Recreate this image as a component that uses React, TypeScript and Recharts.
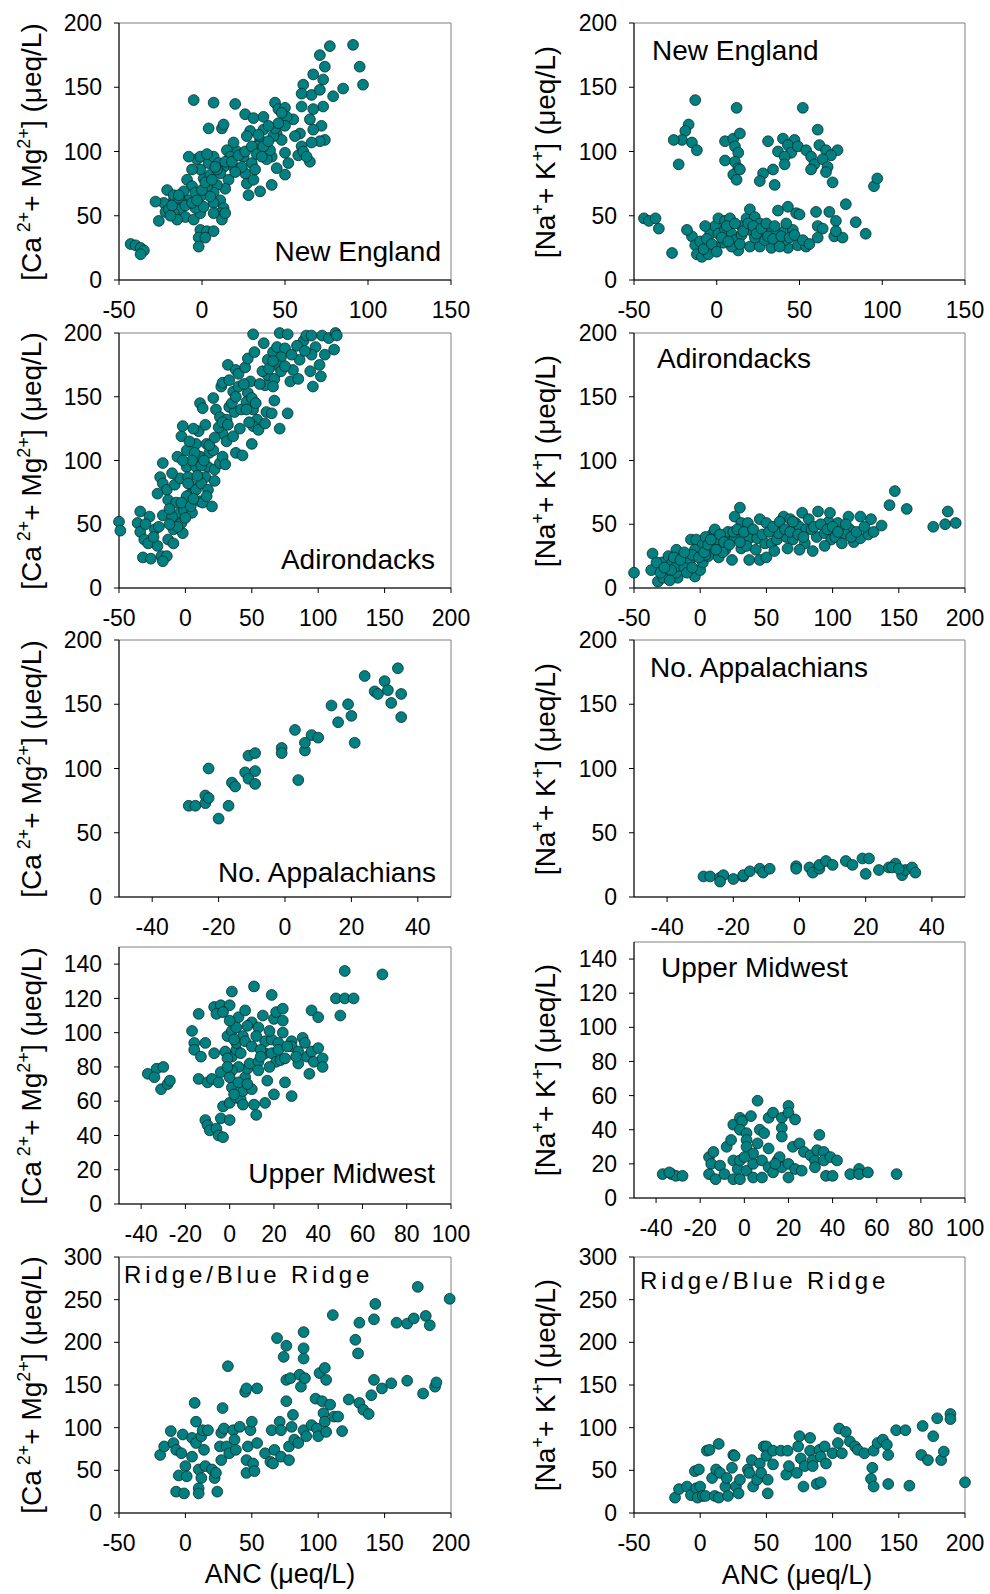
import React from 'react';
import { ScatterChart, Scatter, XAxis, YAxis, ReferenceArea } from 'recharts';

const TEAL = '#008080';
const FONT = '"Liberation Sans", Arial, sans-serif';

// axis ticks
const ancTicks150 = [-50, 0, 50, 100, 150];
const ancTicks200 = [-50, 0, 50, 100, 150, 200];
const ancTicksApp = [-40, -20, 0, 20, 40];
const ancTicksMidwest = [-40, -20, 0, 20, 40, 60, 80, 100];
const concTicks200 = [0, 50, 100, 150, 200];
const concTicks140 = [0, 20, 40, 60, 80, 100, 120, 140];
const concTicks300 = [0, 50, 100, 150, 200, 250, 300];

const regions = ['New England', 'Adirondacks', 'No. Appalachians', 'Upper Midwest', 'Ridge/Blue Ridge'];

// [ANC, concentration] pairs
const newEnglandCaMg = [
  [-43, 28], [-40, 27], [-37, 25], [-35, 23], [-37, 20],
  [-5, 140], [7, 138], [20, 137], [4, 118], [12, 118], [13, 121], [26, 129], [31, 126], [37, 127], [44, 138], [46, 133], [50, 134],
  [71, 175], [77, 182], [91, 183], [95, 166], [97, 152], [74, 166], [73, 156], [67, 160], [61, 152], [85, 149], [79, 143], [66, 144],
  [71, 148], [60, 145], [60, 135], [73, 135], [67, 133], [65, 125], [72, 120], [59, 114], [67, 117], [74, 109], [71, 108], [66, 107],
  [60, 104], [58, 97], [61, 100], [65, 92], [63, 96], [56, 112], [55, 125], [51, 127], [48, 130], [50, 120], [45, 114], [48, 109],
  [43, 112], [50, 99], [52, 91], [50, 82], [45, 87], [42, 96], [39, 94], [35, 109], [33, 104], [41, 101], [37, 117], [29, 116],
  [27, 112], [34, 113], [42, 74], [35, 69], [28, 66], [27, 75], [31, 78], [26, 83], [30, 91], [25, 96], [21, 100], [19, 107],
  [15, 101], [17, 96], [19, 88], [13, 88], [11, 83], [16, 78], [14, 71], [9, 74], [7, 68], [11, 62], [13, 56], [11, 52], [12, 47],
  [14, 52], [7, 60], [5, 65], [3, 73], [1, 79], [-1, 86], [-3, 94], [-8, 96], [-1, 96], [4, 91], [7, 96], [10, 91], [5, 82],
  [-9, 78], [-6, 73], [-11, 69], [-8, 62], [-12, 60], [-13, 55], [-10, 49], [-5, 47], [-1, 52], [-4, 56], [-17, 62], [-21, 70],
  [-17, 66], [-23, 60], [-22, 53], [-28, 61], [-26, 46], [-17, 52], [-15, 47], [-1, 39], [3, 38], [7, 38], [-2, 33], [2, 33],
  [-2, 26], [-1, 65], [-4, 68], [1, 57], [7, 52],
  [-20, 55], [-18, 58], [-14, 64], [-10, 58], [-6, 60], [-3, 62], [0, 70], [2, 76], [6, 78], [9, 86], [14, 92], [18, 92],
  [22, 97], [26, 100], [30, 104], [33, 98], [37, 104], [40, 108], [44, 118], [46, 122], [40, 120], [36, 96], [32, 86],
  [24, 88], [20, 84], [8, 88], [3, 98], [-6, 86], [-14, 66], [-19, 50],
];

const newEnglandNaK = [
  [-44, 48], [-41, 46], [-37, 48], [-35, 40], [-27, 21],
  [-13, 140], [-17, 121], [-19, 116], [-21, 109], [-26, 109], [-15, 107], [-12, 101], [-23, 90],
  [12, 134], [5, 108], [10, 110], [14, 114], [11, 104], [13, 99], [5, 93], [11, 92], [13, 87], [10, 82], [14, 86], [12, 78],
  [52, 134], [61, 117], [31, 108], [40, 110], [47, 109], [43, 105], [37, 100], [45, 99], [41, 96], [41, 90], [49, 104], [54, 101],
  [57, 96], [62, 105], [66, 101], [73, 101], [69, 97], [59, 90], [64, 94], [67, 88], [66, 84], [57, 86], [70, 76], [34, 86],
  [28, 83], [26, 77], [35, 74], [95, 73], [97, 79],
  [-15, 34], [-18, 39], [-13, 27], [-12, 20], [-9, 18], [-5, 20], [-10, 30], [-4, 36], [-1, 42], [1, 48], [5, 46], [8, 48],
  [1, 36], [5, 39], [4, 29], [-1, 26], [9, 36], [11, 31], [13, 23], [15, 42], [18, 48], [20, 55], [23, 49], [20, 39], [26, 44],
  [28, 36], [20, 26], [26, 26], [32, 39], [33, 25], [36, 36], [37, 54], [41, 38], [43, 57], [48, 52], [50, 51], [46, 39],
  [43, 25], [49, 27], [54, 26], [41, 31], [29, 31], [37, 30], [60, 53], [68, 53], [61, 42], [64, 40], [72, 46], [78, 59],
  [84, 45], [90, 36], [61, 33], [71, 34], [76, 33], [72, 38], [-7, 42], [9, 26], [15, 35], [23, 33],
  [-8, 24], [-6, 32], [-3, 28], [0, 22], [3, 33], [6, 42], [7, 30], [11, 44], [14, 28], [16, 38], [19, 44], [22, 42],
  [24, 36], [27, 40], [30, 44], [31, 34], [34, 32], [35, 42], [39, 34], [42, 44], [44, 33], [47, 35], [52, 31], [56, 28], [38, 26],
];

const adirondacksCaMg = [
  [-50, 52], [-49, 45], [-34, 60], [-36, 51], [-34, 44], [-31, 38], [-32, 24], [-26, 23], [-27, 56], [-28, 35], [-23, 46],
  [-21, 33], [-17, 57], [-18, 25], [-14, 25], [-17, 21], [-13, 38], [-9, 35], [-9, 46], [-7, 54], [-2, 43], [-3, 51], [-4, 59],
  [-17, 98], [-19, 87], [-17, 82], [-14, 77], [-21, 74], [-13, 69], [-7, 67], [-8, 81], [-4, 86], [-6, 103], [-3, 119],
  [-2, 127], [1, 108], [1, 95], [2, 87], [5, 80], [3, 73], [8, 77], [11, 68], [13, 67], [20, 64], [11, 103], [8, 113],
  [10, 123], [11, 145], [13, 141], [15, 128], [16, 113], [18, 106], [17, 95], [15, 87], [22, 93], [26, 98], [28, 103],
  [21, 108], [30, 97], [21, 149], [23, 140], [26, 134], [27, 158], [28, 161], [33, 163], [32, 175], [38, 171], [40, 168],
  [45, 173], [47, 180], [52, 185], [59, 192], [51, 199], [49, 162], [47, 153], [36, 154], [33, 142], [37, 138], [31, 132],
  [28, 121], [31, 115], [36, 119], [38, 106], [43, 104], [41, 125], [42, 140], [46, 146], [50, 149], [51, 140], [54, 132],
  [51, 127], [50, 113], [55, 124], [60, 129], [61, 138], [60, 159], [62, 167], [62, 179], [66, 185], [69, 189], [71, 200],
  [77, 199], [75, 188], [72, 181], [69, 175], [67, 164], [66, 158], [67, 147], [65, 137], [71, 125], [77, 137], [81, 171],
  [86, 179], [79, 162], [85, 164], [89, 194], [91, 198], [95, 198], [98, 189], [103, 198], [108, 196], [113, 200], [114, 198],
  [112, 187], [105, 183], [101, 175], [94, 170], [96, 158], [102, 166], [95, 183],
  [1, 72], [-1, 61], [5, 59], [-3, 67], [8, 95], [7, 106], [5, 100], [12, 82], [17, 77], [2, 82],
  [-10, 56], [-6, 48], [-12, 50], [-24, 40], [-20, 48], [-30, 50], [0, 55], [4, 64], [6, 70], [9, 88], [12, 96], [14, 100],
  [18, 112], [22, 118], [25, 126], [28, 130], [32, 128], [35, 145], [38, 150], [40, 158], [44, 160], [46, 140], [48, 130],
  [53, 145], [56, 160], [58, 170], [63, 172], [66, 178], [72, 170], [75, 174], [80, 183], [84, 190], [90, 186], [-10, 90],
  [-2, 100], [3, 115], [6, 125], [-12, 62], [16, 72], [22, 84],
];

const adirondacksNaK = [
  [-50, 12], [-36, 27], [-37, 14], [-32, 5], [-29, 20], [-26, 10], [-24, 25], [-21, 20], [-18, 30], [-17, 8], [-18, 12],
  [-13, 25], [-8, 20], [-4, 9], [-7, 38], [-3, 38], [0, 14], [2, 20], [2, 34], [9, 42], [11, 46], [9, 30], [6, 25], [14, 24],
  [19, 30], [21, 40], [21, 44], [24, 22], [26, 56], [30, 63], [31, 51], [26, 40], [31, 31], [36, 51], [37, 39], [37, 22],
  [43, 39], [45, 54], [49, 35], [50, 51], [45, 22], [50, 24], [54, 35], [58, 38], [63, 56], [61, 46], [68, 54], [65, 40],
  [70, 38], [66, 31], [72, 51], [77, 59], [75, 48], [80, 46], [79, 35], [75, 30], [85, 29], [89, 60], [88, 40], [97, 52],
  [98, 59], [94, 43], [99, 38], [94, 33], [104, 51], [102, 40], [107, 35], [112, 56], [113, 46], [116, 36], [121, 56],
  [121, 39], [127, 42], [131, 44], [129, 54], [137, 49], [143, 65], [147, 76], [156, 62], [176, 48], [185, 50], [187, 60],
  [193, 51], [-18, 17], [-4, 30], [4, 26], [11, 35], [16, 35], [35, 33], [56, 29], [59, 43], [84, 46], [109, 43],
  [-28, 8], [-22, 14], [-12, 16], [-6, 26], [4, 40], [14, 38], [17, 28],
  [-33, 20], [-30, 12], [-27, 16], [-23, 6], [-20, 24], [-15, 22], [-10, 12], [-12, 28], [-6, 16], [-1, 24], [3, 28],
  [6, 34], [8, 38], [12, 30], [15, 42], [18, 36], [22, 34], [25, 44], [28, 46], [30, 36], [33, 44], [40, 46], [42, 30],
  [47, 42], [52, 44], [55, 48], [60, 52], [64, 46], [68, 44], [70, 52], [74, 42], [78, 40], [82, 54], [86, 48], [91, 50],
  [96, 46], [100, 48], [104, 44], [110, 50], [114, 40], [118, 44], [124, 48],
];

const appalachiansCaMg = [
  [-29, 71], [-27, 71], [-24, 73], [-24, 79], [-23, 77], [-23, 100], [-20, 61], [-17, 71], [-16, 89], [-15, 86], [-12, 97],
  [-11, 92], [-11, 110], [-9, 112], [-9, 98], [-9, 88], [-1, 116], [-1, 112], [4, 91], [3, 130], [6, 114], [6, 120], [8, 126],
  [10, 124], [14, 149], [16, 136], [19, 150], [20, 141], [21, 120], [24, 172], [27, 160], [28, 158], [30, 168], [31, 161],
  [32, 151], [34, 178], [35, 158], [35, 140],
];

const appalachiansNaK = [
  [-29, 16], [-27, 16], [-24, 15], [-23, 17], [-24, 12], [-20, 14], [-17, 16], [-17, 17], [-15, 20], [-12, 22], [-11, 19],
  [-9, 22], [-1, 24], [-1, 22], [3, 23], [4, 19], [6, 22], [6, 25], [8, 28], [10, 25], [14, 28], [16, 25], [19, 30], [21, 30],
  [20, 18], [24, 21], [27, 23], [29, 26], [28, 23], [31, 17], [32, 21], [34, 23], [35, 19], [30, 22],
];

const midwestCaMg = [
  [-37, 76], [-33, 79], [-30, 80], [-34, 74], [-31, 67], [-28, 70], [-27, 72], [-17, 101], [-16, 94], [-16, 90], [-13, 86],
  [-14, 111], [-11, 94], [-14, 73], [-11, 49], [-10, 46], [-9, 43], [-6, 44], [-5, 40], [-3, 39], [-4, 50], [0, 49], [-10, 71],
  [-8, 73], [-5, 71], [-4, 77], [-3, 57], [0, 59], [1, 68], [3, 62], [5, 61], [6, 66], [7, 74], [8, 79], [4, 80], [1, 86],
  [-2, 89], [-1, 85], [3, 90], [3, 94], [-1, 98], [1, 101], [3, 103], [4, 109], [7, 113], [-7, 115], [-4, 116], [0, 116],
  [1, 124], [-6, 111], [-3, 112], [0, 107], [11, 127], [10, 106], [6, 98], [7, 95], [10, 92], [9, 82], [13, 83], [13, 78],
  [10, 67], [11, 58], [12, 52], [16, 59], [17, 72], [15, 110], [13, 103], [16, 95], [16, 88], [19, 96], [19, 122], [18, 101],
  [20, 108], [21, 112], [24, 114], [24, 107], [24, 100], [22, 94], [19, 88], [21, 83], [23, 84], [20, 64], [25, 71], [25, 85],
  [28, 95], [28, 92], [28, 63], [31, 89], [31, 82], [33, 97], [34, 94], [35, 86], [36, 76], [37, 113], [40, 109], [37, 89],
  [40, 91], [38, 83], [42, 85], [42, 80], [48, 120], [52, 120], [56, 120], [50, 110], [52, 136], [69, 134], [1, 78], [0, 74],
  [4, 71],
  [2, 96], [5, 88], [8, 104], [12, 98], [14, 90], [18, 80], [22, 90], [26, 92], [30, 86], [-1, 80], [2, 64], [6, 58], [8, 70],
  [14, 86], [-7, 88],
];

const midwestNaK = [
  [-37, 14], [-33, 14], [-31, 13], [-28, 13], [-34, 15], [-16, 24], [-14, 27], [-15, 20], [-16, 14], [-13, 11], [-11, 19],
  [-9, 14], [-8, 30], [-6, 34], [-5, 43], [-2, 47], [-1, 45], [-2, 40], [-5, 22], [-5, 11], [-3, 17], [-2, 22], [-2, 11],
  [1, 16], [1, 38], [1, 34], [1, 30], [3, 48], [6, 57], [4, 20], [4, 12], [7, 40], [8, 22], [9, 38], [8, 12], [11, 47],
  [13, 50], [11, 29], [11, 18], [13, 15], [15, 22], [17, 47], [17, 41], [17, 36], [16, 24], [17, 18], [20, 54], [20, 50],
  [20, 20], [20, 12], [22, 30], [23, 46], [23, 17], [25, 32], [26, 16], [27, 27], [30, 25], [32, 22], [33, 28], [34, 37],
  [36, 27], [36, 22], [37, 13], [40, 13], [39, 24], [42, 22], [48, 14], [52, 17], [52, 14], [56, 15], [69, 14], [6, 32],
  [4, 26], [14, 20], [0, 24], [32, 18],
];

const blueRidgeCaMg = [
  [-19, 68], [-16, 78], [-11, 96], [-9, 82], [-7, 74], [-5, 44], [-7, 25], [-1, 23], [-3, 70], [-2, 92], [0, 55], [1, 43],
  [5, 88], [5, 66], [7, 129], [8, 107], [8, 82], [10, 51], [10, 29], [10, 23], [12, 41], [12, 90], [13, 97], [14, 74], [15, 55],
  [17, 97], [20, 51], [22, 41], [23, 47], [24, 25], [26, 78], [27, 62], [27, 94], [28, 123], [29, 99], [31, 78], [32, 172],
  [33, 70], [36, 97], [37, 86], [38, 74], [41, 101], [45, 142], [46, 146], [47, 78], [46, 62], [46, 47], [49, 97], [50, 107],
  [51, 58], [52, 49], [54, 82], [54, 146], [60, 70], [64, 60], [65, 97], [67, 74], [66, 58], [69, 205], [71, 107], [72, 97],
  [74, 183], [76, 196], [76, 131], [76, 156], [72, 66], [78, 62], [78, 78], [79, 158], [80, 101], [81, 115], [82, 86],
  [85, 82], [86, 162], [87, 148], [89, 97], [89, 181], [89, 193], [89, 212], [90, 158], [91, 90], [95, 103], [98, 134],
  [99, 99], [100, 90], [101, 164], [105, 170], [106, 156], [103, 131], [104, 117], [105, 107], [106, 95], [109, 127],
  [111, 232], [112, 113], [115, 113], [118, 96], [123, 133], [128, 203], [130, 187], [131, 223], [131, 129], [134, 121],
  [138, 116], [140, 138], [142, 156], [142, 227], [143, 245], [148, 146], [155, 152], [159, 223], [167, 222], [167, 155],
  [172, 228], [175, 265], [179, 140], [181, 231], [184, 220], [188, 148], [189, 153], [199, 251],
];

const blueRidgeNaK = [
  [-19, 18], [-16, 28], [-10, 31], [-7, 21], [-4, 49], [-1, 51], [-3, 29], [0, 31], [-2, 18], [2, 20], [4, 20], [5, 73],
  [7, 74], [9, 41], [11, 20], [12, 51], [14, 81], [15, 47], [19, 31], [20, 41], [14, 18], [24, 53], [25, 68], [26, 67],
  [21, 20], [27, 31], [30, 39], [29, 23], [36, 51], [37, 47], [39, 62], [40, 31], [43, 39], [45, 58], [46, 47], [48, 78],
  [50, 78], [50, 67], [51, 39], [51, 23], [55, 57], [55, 73], [61, 73], [65, 45], [66, 73], [67, 55], [73, 47], [74, 78],
  [75, 90], [76, 64], [78, 31], [79, 55], [83, 88], [83, 73], [85, 62], [85, 55], [88, 34], [91, 36], [90, 74], [91, 66],
  [94, 78], [95, 58], [100, 70], [104, 82], [105, 99], [107, 70], [110, 95], [113, 84], [117, 78], [119, 74], [124, 70],
  [131, 73], [130, 53], [129, 40], [131, 31], [134, 82], [138, 86], [141, 80], [142, 68], [142, 34], [148, 97], [155, 97],
  [158, 32], [168, 102], [167, 68], [172, 62], [176, 90], [179, 111], [182, 62], [184, 72], [189, 116], [189, 110], [200, 36],
];

interface PanelProps {
  points: number[][];
  col: 0 | 1;
  plotTop: number;
  plotH: number;
  xDomain: [number, number];
  xTicks: number[];
  yDomain: [number, number];
  yTicks: number[];
}

const Marker = (props: any) => (
  <circle cx={props.cx} cy={props.cy} r={5.4} fill={TEAL} stroke="#0b2b2b" strokeWidth={0.8} />
);

const tickStyle = { fontSize: 23, fill: '#000', fontFamily: FONT };
const PAD = 15;

const Panel: React.FC<PanelProps> = ({ points, col, plotTop, plotH, xDomain, xTicks, yDomain, yTicks }) => {
  const left = col === 0 ? 0 : 495;
  const yAxisW = col === 0 ? 119 : 139;
  const rightM = col === 0 ? 44 : 25;
  const data = points.map(([x, y]) => ({ x, y }));
  return (
    <div style={{ position: 'absolute', left, top: plotTop - PAD }}>
      <ScatterChart width={495} height={plotH + 40 + 2 * PAD} margin={{ top: PAD, right: rightM, bottom: PAD, left: 0 }}>
        <ReferenceArea
          x1={xDomain[0]} x2={xDomain[1]} y1={yDomain[0]} y2={yDomain[1]}
          fill="none" fillOpacity={0} stroke="#808080" strokeWidth={1}
        />
        <XAxis
          type="number" dataKey="x" domain={xDomain} ticks={xTicks} interval={0}
          height={40} tickSize={5} tickMargin={17} stroke="#000" tick={tickStyle}
        />
        <YAxis
          type="number" dataKey="y" domain={yDomain} ticks={yTicks} interval={0}
          width={yAxisW} tickSize={5} tickMargin={12} stroke="#000" tick={tickStyle}
        />
        <Scatter data={data} isAnimationActive={false} shape={Marker} />
      </ScatterChart>
    </div>
  );
};

const CaMgTitle = ({ x, y }: { x: number; y: number }) => (
  <text transform={`rotate(-90 ${x} ${y})`} x={x} y={y} textAnchor="middle" fontSize={28}>
    [Ca<tspan dx={5} dy={-11} fontSize={18}>2+</tspan>
    <tspan dy={11}>+ Mg</tspan>
    <tspan dy={-11} fontSize={18}>2+</tspan>
    <tspan dy={11}>] (μeq/L)</tspan>
  </text>
);

const NaKTitle = ({ x, y }: { x: number; y: number }) => (
  <text transform={`rotate(-90 ${x} ${y})`} x={x} y={y} textAnchor="middle" fontSize={28}>
    [Na<tspan dy={-11} fontSize={18}>+</tspan>
    <tspan dy={11}>+ K</tspan>
    <tspan dy={-11} fontSize={18}>+</tspan>
    <tspan dy={11}>] (μeq/L)</tspan>
  </text>
);

const App: React.FC = () => {
  return (
    <div style={{ position: 'absolute', left: 0, top: 0, width: 990, height: 1594, background: '#fff', fontFamily: FONT, overflow: 'hidden' }}>
      {/* New England */}
      <Panel points={newEnglandCaMg} col={0} plotTop={23} plotH={257} xDomain={[-50, 150]} xTicks={ancTicks150} yDomain={[0, 200]} yTicks={concTicks200} />
      <Panel points={newEnglandNaK} col={1} plotTop={23} plotH={257} xDomain={[-50, 150]} xTicks={ancTicks150} yDomain={[0, 200]} yTicks={concTicks200} />
      {/* Adirondacks */}
      <Panel points={adirondacksCaMg} col={0} plotTop={333} plotH={255} xDomain={[-50, 200]} xTicks={ancTicks200} yDomain={[0, 200]} yTicks={concTicks200} />
      <Panel points={adirondacksNaK} col={1} plotTop={333} plotH={255} xDomain={[-50, 200]} xTicks={ancTicks200} yDomain={[0, 200]} yTicks={concTicks200} />
      {/* No. Appalachians */}
      <Panel points={appalachiansCaMg} col={0} plotTop={640} plotH={257} xDomain={[-50, 50]} xTicks={ancTicksApp} yDomain={[0, 200]} yTicks={concTicks200} />
      <Panel points={appalachiansNaK} col={1} plotTop={640} plotH={257} xDomain={[-50, 50]} xTicks={ancTicksApp} yDomain={[0, 200]} yTicks={concTicks200} />
      {/* Upper Midwest */}
      <Panel points={midwestCaMg} col={0} plotTop={947} plotH={257} xDomain={[-50, 100]} xTicks={ancTicksMidwest} yDomain={[0, 150]} yTicks={concTicks140} />
      <Panel points={midwestNaK} col={1} plotTop={942} plotH={256} xDomain={[-50, 100]} xTicks={ancTicksMidwest} yDomain={[0, 150]} yTicks={concTicks140} />
      {/* Ridge/Blue Ridge */}
      <Panel points={blueRidgeCaMg} col={0} plotTop={1257} plotH={256} xDomain={[-50, 200]} xTicks={ancTicks200} yDomain={[0, 300]} yTicks={concTicks300} />
      <Panel points={blueRidgeNaK} col={1} plotTop={1257} plotH={256} xDomain={[-50, 200]} xTicks={ancTicks200} yDomain={[0, 300]} yTicks={concTicks300} />

      <svg width={990} height={1594} style={{ position: 'absolute', left: 0, top: 0, pointerEvents: 'none' }} fontFamily={FONT} fill="#000">
        <CaMgTitle x={41} y={152} />
        <NaKTitle x={555} y={152} />
        <CaMgTitle x={41} y={461} />
        <NaKTitle x={555} y={461} />
        <CaMgTitle x={41} y={769} />
        <NaKTitle x={555} y={769} />
        <CaMgTitle x={41} y={1076} />
        <NaKTitle x={555} y={1070} />
        <CaMgTitle x={41} y={1385} />
        <NaKTitle x={555} y={1385} />

        <text x={441} y={261} fontSize={28} textAnchor="end">{regions[0]}</text>
        <text x={652} y={60} fontSize={28}>{regions[0]}</text>
        <text x={435} y={569} fontSize={28} textAnchor="end">{regions[1]}</text>
        <text x={657} y={368} fontSize={28}>{regions[1]}</text>
        <text x={436} y={882} fontSize={28} textAnchor="end">{regions[2]}</text>
        <text x={650} y={677} fontSize={28}>{regions[2]}</text>
        <text x={435} y={1183} fontSize={28} textAnchor="end">{regions[3]}</text>
        <text x={661} y={977} fontSize={28}>{regions[3]}</text>
        <text x={124} y={1283} fontSize={24} letterSpacing={3.9}>{regions[4]}</text>
        <text x={640} y={1289} fontSize={24} letterSpacing={3.9}>{regions[4]}</text>

        <text x={280} y={1583} fontSize={27} textAnchor="middle">ANC (μeq/L)</text>
        <text x={797} y={1584} fontSize={27} textAnchor="middle">ANC (μeq/L)</text>
      </svg>
    </div>
  );
};

export default App;
